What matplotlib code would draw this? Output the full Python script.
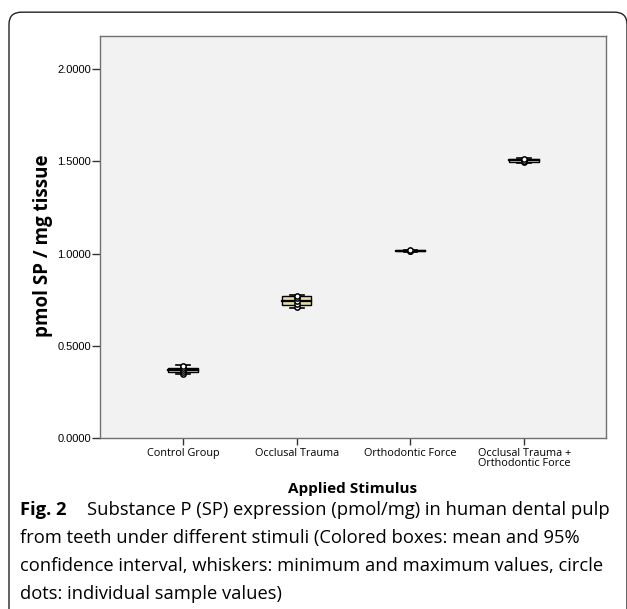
import matplotlib.pyplot as plt
from matplotlib.patches import FancyBboxPatch

# groups and values
groups = ["Control Group", "Occlusal Trauma", "Orthodontic Force",
          "Occlusal Trauma +\nOrthodontic Force"]
box_low = [0.356, 0.722, 1.011, 1.497]
box_high = [0.381, 0.768, 1.019, 1.513]
centre = [0.368, 0.745, 1.015, 1.505]
whisk_min = [0.345, 0.703, 1.010, 1.493]
whisk_max = [0.396, 0.775, 1.020, 1.516]
samples = [
    [0.348, 0.358, 0.368, 0.380, 0.392],
    [0.708, 0.728, 0.745, 0.760, 0.772],
    [1.013, 1.015, 1.017],
    [1.497, 1.503, 1.510],
]
yticks = [0.0, 0.5, 1.0, 1.5, 2.0]

caption = [
    "from teeth under different stimuli (Colored boxes: mean and 95%",
    "confidence interval, whiskers: minimum and maximum values, circle",
    "dots: individual sample values)",
]

fig = plt.figure(figsize=(6.27, 6.09), dpi=100)

# rounded frame around the whole figure
frame = FancyBboxPatch((9 / 627, -0.2), (618 / 627), 1.18,
                       boxstyle="round,pad=0,rounding_size=0.02",
                       transform=fig.transFigure, fill=False,
                       edgecolor="#222222", linewidth=1.0)
fig.patches.append(frame)

ax = fig.add_axes([100 / 627, 171 / 609, 506 / 627, 402 / 609])
ax.set_facecolor("#f2f2f2")
for s in ax.spines.values():
    s.set_color("#707070")
    s.set_linewidth(1.0)

w = 0.26
cap = 0.12
for i in range(len(groups)):
    # whisker lines and caps
    ax.plot([i, i], [whisk_min[i], whisk_max[i]], color="black", lw=1, zorder=2)
    for v in (whisk_min[i], whisk_max[i]):
        ax.plot([i - cap / 2, i + cap / 2], [v, v], color="black", lw=1.2, zorder=4)
    # box
    ax.add_patch(plt.Rectangle((i - w / 2, box_low[i]), w, box_high[i] - box_low[i],
                               facecolor="#e3dba8", edgecolor="black", lw=1, zorder=3))
    ax.plot([i - w / 2, i + w / 2], [centre[i], centre[i]], color="black", lw=1.6, zorder=4)
    ax.plot([i] * len(samples[i]), samples[i], "o", ms=3.8, mfc="white",
            mec="black", mew=1.1, zorder=5)

ax.set_xlim(-0.73, 3.72)
ax.set_ylim(0, 2.179)
ax.set_xticks(range(len(groups)))
ax.set_xticklabels(groups, fontsize=7.8, family="Open Sans", linespacing=0.85)
ax.set_yticks(yticks)
ax.set_yticklabels(["%.4f" % v for v in yticks], fontsize=8, family="Liberation Sans")
ax.tick_params(axis="y", length=6, width=1, color="#333333", pad=0.5)
ax.tick_params(axis="x", length=5, width=1, color="#333333", pad=2)

ax.set_ylabel("pmol SP / mg tissue", fontsize=13.5, fontweight="bold",
              family="Open Sans")
ax.yaxis.set_label_coords(-0.093, 0.478)
ax.set_xlabel("Applied Stimulus", fontsize=11, fontweight="bold",
              family="Open Sans", labelpad=10)

# caption
fs = 13.2
fig.text(20 / 627, 1 - 510 / 609, "Fig. 2", fontsize=fs, fontweight="bold",
         family="Open Sans", va="center")
fig.text(87 / 627, 1 - 510 / 609, "Substance P (SP) expression (pmol/mg) in human dental pulp",
         fontsize=fs, family="Open Sans", va="center")
for k, line in enumerate(caption):
    fig.text(20 / 627, 1 - (538 + 28 * k) / 609, line,
             fontsize=fs, family="Open Sans", va="center")

fig.savefig("out.png", dpi=100)
